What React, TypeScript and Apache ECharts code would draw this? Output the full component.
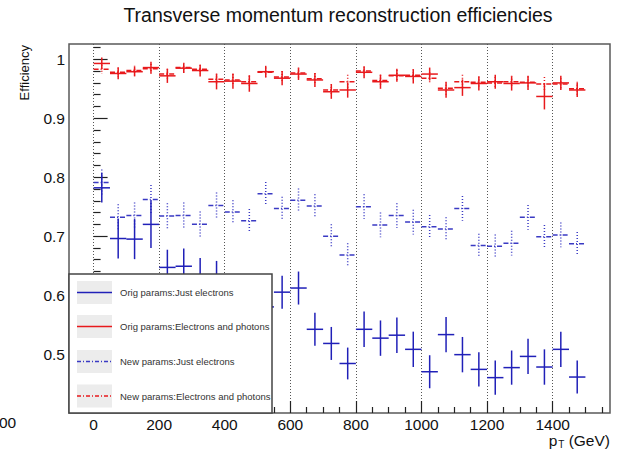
import React, { useEffect, useRef } from "react";
import * as echarts from "echarts";

// ---- data ----
const binCenters = [25, 75, 125, 175, 225, 275, 325, 375, 425, 475, 525, 575, 625, 675, 725, 775, 825, 875, 925, 975, 1025, 1075, 1125, 1175, 1225, 1275, 1325, 1375, 1425, 1475];
const binHalfWidth = 25;

const origElec = [0.782, 0.696, 0.695, 0.72, 0.647, 0.649, 0.633, 0.628, 0.585, 0.57, 0.58, 0.605, 0.612, 0.542, 0.518, 0.484, 0.542, 0.527, 0.532, 0.508, 0.47, 0.533, 0.499, 0.474, 0.46, 0.477, 0.496, 0.478, 0.508, 0.461];
const origElecErr = [0.025, 0.034, 0.034, 0.04, 0.03, 0.03, 0.03, 0.03, 0.03, 0.03, 0.03, 0.028, 0.028, 0.028, 0.028, 0.027, 0.03, 0.03, 0.03, 0.03, 0.028, 0.03, 0.03, 0.029, 0.029, 0.029, 0.03, 0.03, 0.03, 0.028];

const origEgamma = [0.993, 0.976, 0.979, 0.986, 0.972, 0.985, 0.981, 0.962, 0.963, 0.959, 0.979, 0.968, 0.975, 0.965, 0.945, 0.948, 0.978, 0.962, 0.973, 0.971, 0.975, 0.948, 0.952, 0.959, 0.962, 0.959, 0.96, 0.937, 0.96, 0.948];
const origEgammaErr = [0.01, 0.01, 0.008, 0.01, 0.012, 0.008, 0.01, 0.013, 0.013, 0.014, 0.01, 0.012, 0.01, 0.012, 0.012, 0.013, 0.01, 0.012, 0.011, 0.012, 0.011, 0.013, 0.014, 0.012, 0.012, 0.012, 0.012, 0.022, 0.012, 0.012];

const newElec = [0.791, 0.732, 0.735, 0.762, 0.734, 0.735, 0.72, 0.752, 0.741, 0.726, 0.772, 0.747, 0.761, 0.751, 0.7, 0.668, 0.75, 0.719, 0.735, 0.724, 0.716, 0.712, 0.747, 0.684, 0.683, 0.688, 0.732, 0.699, 0.702, 0.687];
const newElecErr = [0.022, 0.022, 0.022, 0.025, 0.022, 0.022, 0.022, 0.022, 0.02, 0.02, 0.02, 0.02, 0.02, 0.02, 0.02, 0.02, 0.021, 0.021, 0.021, 0.021, 0.02, 0.02, 0.021, 0.02, 0.02, 0.021, 0.021, 0.02, 0.021, 0.02];

const newEgamma = [0.983, 0.978, 0.981, 0.984, 0.975, 0.986, 0.983, 0.966, 0.965, 0.962, 0.978, 0.97, 0.977, 0.967, 0.948, 0.962, 0.98, 0.964, 0.972, 0.973, 0.968, 0.951, 0.962, 0.961, 0.96, 0.962, 0.961, 0.958, 0.958, 0.95];
const newEgammaErr = [0.008, 0.008, 0.008, 0.008, 0.009, 0.008, 0.008, 0.01, 0.01, 0.01, 0.008, 0.01, 0.009, 0.01, 0.01, 0.012, 0.008, 0.01, 0.01, 0.01, 0.01, 0.011, 0.012, 0.01, 0.01, 0.01, 0.01, 0.012, 0.01, 0.012];

const xMajorTicks = [0, 200, 400, 600, 800, 1000, 1200, 1400];
const xMinorTicks = [-50, 50, 100, 150, 250, 300, 350, 450, 500, 550, 650, 700, 750, 850, 900, 950, 1050, 1100, 1150, 1250, 1300, 1350, 1450, 1500, 1550];
const yMajorTicks = [0.5, 0.6, 0.7, 0.8, 0.9, 1];
const yMinorTicks = [0.42, 0.44, 0.46, 0.48, 0.52, 0.54, 0.56, 0.58, 0.62, 0.64, 0.66, 0.68, 0.72, 0.74, 0.76, 0.78, 0.82, 0.84, 0.86, 0.88, 0.92, 0.94, 0.96, 0.98, 1.02];

const legendEntries = [
  { label: "Orig params:Just electrons", color: "#2020b8", dashed: false },
  { label: "Orig params:Electrons and photons", color: "#e8191c", dashed: false },
  { label: "New params:Just electrons", color: "#3a3ac4", dashed: true },
  { label: "New params:Electrons and photons", color: "#e8191c", dashed: true },
];

const FONT = "'Liberation Sans', Arial, Helvetica, sans-serif";

function crossSeries(name: string, vals: number[], errs: number[], color: string, dashed: boolean) {
  return {
    type: "custom",
    name,
    coordinateSystem: "cartesian2d",
    xAxisIndex: 0,
    yAxisIndex: 0,
    clip: true,
    encode: { x: 0, y: 1 },
    data: binCenters.map((x, i) => [x, vals[i], errs[i]]),
    renderItem: (params: any, api: any) => {
      const x = api.value(0);
      const y = api.value(1);
      const e = api.value(2);
      const pL = api.coord([x - binHalfWidth, y]);
      const pR = api.coord([x + binHalfWidth, y]);
      const pT = api.coord([x, y + e]);
      const pB = api.coord([x, y - e]);
      return {
        type: "group",
        children: [
          {
            type: "line",
            shape: { x1: pL[0], y1: pL[1], x2: pR[0], y2: pR[1] },
            style: { stroke: color, lineWidth: 1.5, lineDash: dashed ? [5, 2, 1, 2] : null },
          },
          {
            type: "line",
            shape: { x1: pT[0], y1: pT[1], x2: pB[0], y2: pB[1] },
            style: { stroke: color, lineWidth: 1.5, lineDash: dashed ? [1, 2] : null },
          },
        ],
      };
    },
  };
}

export default function App() {
  const ref = useRef<HTMLDivElement>(null);
  useEffect(() => {
    if (!ref.current) return;
    const chart = echarts.init(ref.current, null, { renderer: "svg" });

    const legendTop = 274;
    const legendRowsY = [292.5, 326.5, 361.5, 396];
    const legendGraphics: any[] = [
      {
        type: "rect",
        shape: { x: 69, y: legendTop, width: 203, height: 413 - legendTop },
        style: { fill: "#ffffff", stroke: "#444444", lineWidth: 1.5 },
        z: 100,
      },
    ];
    legendEntries.forEach((en, i) => {
      const cy = legendRowsY[i];
      legendGraphics.push({
        type: "rect",
        shape: { x: 77, y: cy - 11.5, width: 35, height: 23 },
        style: { fill: "#ececec" },
        z: 101,
      });
      legendGraphics.push({
        type: "line",
        shape: { x1: 77, y1: cy, x2: 112, y2: cy },
        style: { stroke: en.color, lineWidth: 1.3, lineDash: en.dashed ? [4, 2, 1, 2] : null },
        z: 102,
      });
      legendGraphics.push({
        type: "text",
        x: 120,
        y: cy,
        style: { text: en.label, fill: "#333333", font: `9.5px ${FONT}`, align: "left", verticalAlign: "middle" },
        z: 102,
      });
    });

    const option: any = {
      animation: false,
      backgroundColor: "#ffffff",
      grid: {
        left: 69,
        top: 44,
        width: 541,
        height: 369,
        show: true,
        borderColor: "#5a5a5a",
        borderWidth: 1.5,
        backgroundColor: "transparent",
      },
      xAxis: [
        {
          type: "value",
          min: -75,
          max: 1575,
          splitNumber: 8,
          axisLine: { show: false },
          axisTick: { show: true, inside: true, length: 12, customValues: xMajorTicks, lineStyle: { color: "#222", width: 1.2 } },
          axisLabel: {
            show: true,
            customValues: xMajorTicks,
            margin: 3,
            fontSize: 15.5,
            fontFamily: FONT,
            color: "#111",
            formatter: (v: number) => String(v),
          },
          splitLine: { show: true, lineStyle: { color: "#555", type: [1, 2], width: 1 } },
        },
        {
          type: "value",
          min: -75,
          max: 1575,
          position: "bottom",
          axisLine: { show: false },
          axisTick: { show: true, inside: true, length: 6, customValues: xMinorTicks, lineStyle: { color: "#222", width: 1.2 } },
          axisLabel: { show: false },
          splitLine: { show: false },
        },
      ],
      yAxis: [
        {
          type: "value",
          min: 0.4,
          max: 1.026,
          interval: 0.1,
          axisLine: { show: false },
          axisTick: { show: true, inside: true, length: 14, customValues: yMajorTicks, lineStyle: { color: "#222", width: 1.2 } },
          axisLabel: {
            show: true,
            customValues: yMajorTicks,
            margin: 4,
            fontSize: 15.5,
            fontFamily: FONT,
            color: "#111",
            formatter: (v: number) => String(v),
          },
          splitLine: { show: false },
        },
        {
          type: "value",
          min: 0.4,
          max: 1.026,
          position: "left",
          axisLine: { show: false },
          axisTick: { show: true, inside: true, length: 7, customValues: yMinorTicks, lineStyle: { color: "#222", width: 1.2 } },
          axisLabel: { show: false },
          splitLine: { show: false },
        },
      ],
      series: [
        crossSeries("New params:Electrons and photons", newEgamma, newEgammaErr, "#e8191c", true),
        crossSeries("New params:Just electrons", newElec, newElecErr, "#3a3ac4", true),
        crossSeries("Orig params:Electrons and photons", origEgamma, origEgammaErr, "#e8191c", false),
        crossSeries("Orig params:Just electrons", origElec, origElecErr, "#2020b8", false),
      ],
      graphic: [
        {
          type: "text",
          x: 338,
          y: 15,
          style: { text: "Transverse momentum reconstruction efficiencies", fill: "#111", font: `19.5px ${FONT}`, align: "center", verticalAlign: "middle" },
        },
        {
          type: "text",
          x: 24,
          y: 45,
          rotation: Math.PI / 2,
          style: { text: "Efficiency", fill: "#111", font: `13px ${FONT}`, align: "right", verticalAlign: "middle" },
        },
        {
          type: "text",
          x: 610,
          y: 432,
          style: {
            text: "{a|p}{b|T}{a| (GeV)}",
            fill: "#111",
            align: "right",
            verticalAlign: "top",
            rich: {
              a: { fontSize: 15.5, fontFamily: FONT, fill: "#111", verticalAlign: "top", lineHeight: 13 },
              b: { fontSize: 10, fontFamily: FONT, fill: "#111", verticalAlign: "top", lineHeight: 10, padding: [7, 0, 0, 1] },
            },
          },
        },
        {
          type: "text",
          x: -1,
          y: 422,
          style: { text: "00", fill: "#111", font: `15.5px ${FONT}`, align: "left", verticalAlign: "middle" },
        },
        ...legendGraphics,
      ],
    };
    chart.setOption(option);
    return () => chart.dispose();
  }, []);
  return <div ref={ref} style={{ position: "absolute", left: 0, top: 0, width: 617, height: 450 }} />;
}
